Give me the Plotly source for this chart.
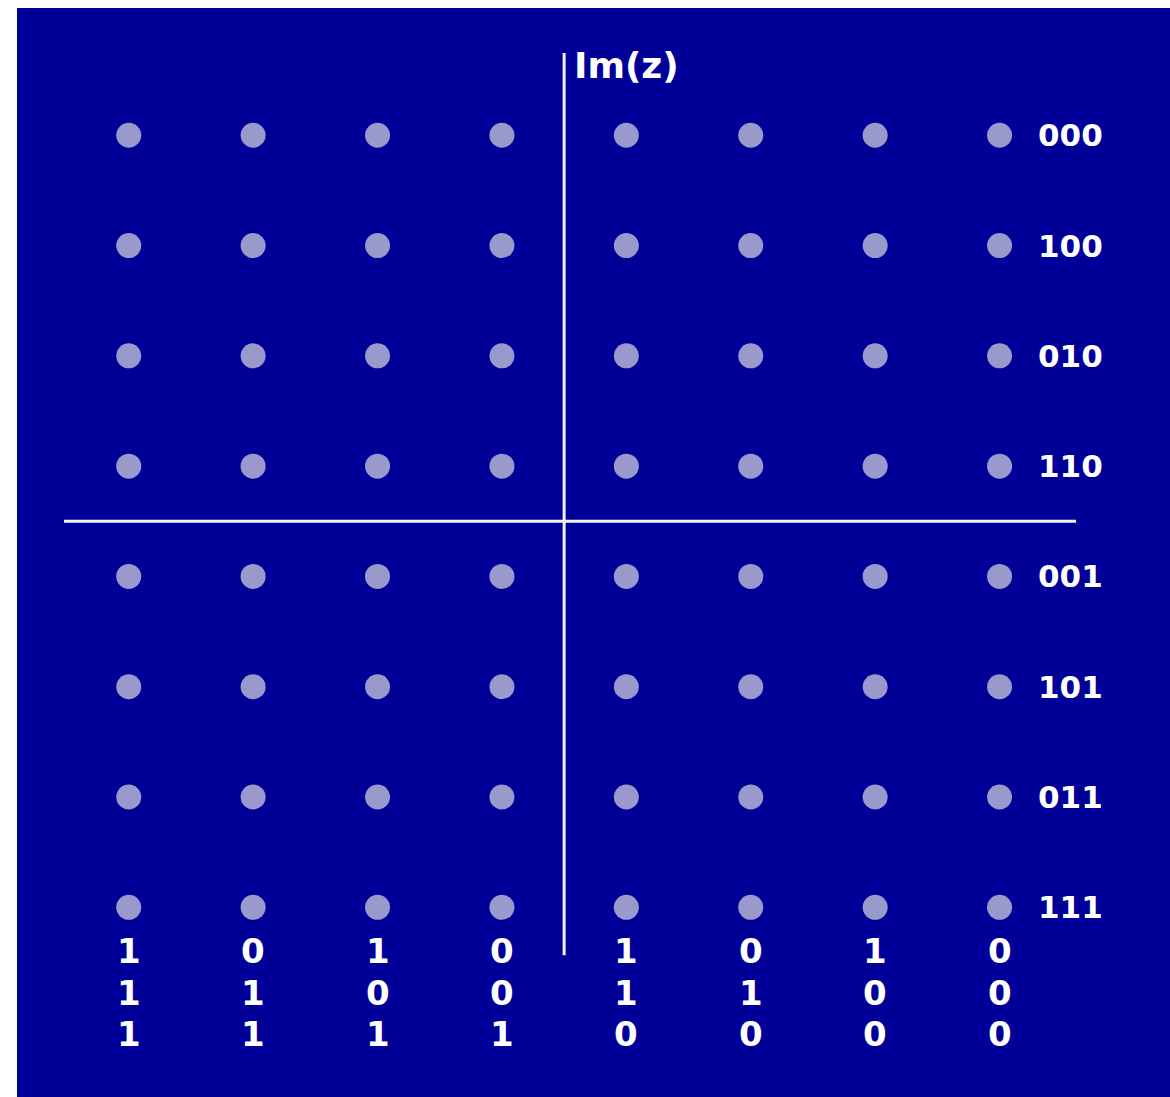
import plotly.graph_objects as go

# ---- data ----
I_LEVELS = [-7, -5, -3, -1, 1, 3, 5, 7]          # in-phase levels (columns)
Q_LEVELS = [7, 5, 3, 1, -1, -3, -5, -7]          # quadrature levels (rows, top to bottom)
ROW_LABELS = ["000", "100", "010", "110", "001", "101", "011", "111"]
BIT_ROW_1 = ["1", "0", "1", "0", "1", "0", "1", "0"]
BIT_ROW_2 = ["1", "1", "0", "0", "1", "1", "0", "0"]
BIT_ROW_3 = ["1", "1", "1", "1", "0", "0", "0", "0"]
AXIS_LABEL = "Im(z)"

# ---- style / layout constants ----
BG = "#000099"
DOT = "#9999CC"
FONT = "DejaVu Sans"
X_RANGE = [-8.796, 9.74]
Y_RANGE = [-10.44, 9.308]
V_AXIS = (8.49, -7.87)      # extent of imaginary axis line
H_AXIS = (-8.04, 8.23)      # extent of real axis line
ROW_LABEL_X = 7.58
BIT_ROWS_Y = [-7.8, -8.55, -9.3]

xs, ys = [], []
for q in Q_LEVELS:
    for i in I_LEVELS:
        xs.append(i)
        ys.append(q)

fig = go.Figure()
fig.add_trace(go.Scatter(
    x=xs, y=ys, mode="markers",
    marker=dict(size=25, color=DOT, line=dict(width=0)),
    hoverinfo="skip", showlegend=False,
))

shapes = [
    dict(type="line", xref="x", yref="y", x0=0, x1=0, y0=V_AXIS[0], y1=V_AXIS[1],
         line=dict(color="#F2F2F2", width=3), layer="below"),
    dict(type="line", xref="x", yref="y", x0=H_AXIS[0], x1=H_AXIS[1], y0=0, y1=0,
         line=dict(color="#F2F2F2", width=3), layer="below"),
]

annotations = []
for q, lab in zip(Q_LEVELS, ROW_LABELS):
    annotations.append(dict(x=ROW_LABEL_X, y=q, xref="x", yref="y", text=lab,
                            showarrow=False, xanchor="left", yanchor="middle",
                            font=dict(family=FONT, size=31, color="white", weight="bold")))
for row, yv in zip([BIT_ROW_1, BIT_ROW_2, BIT_ROW_3], BIT_ROWS_Y):
    for i, b in zip(I_LEVELS, row):
        annotations.append(dict(x=i, y=yv, xref="x", yref="y", text=b,
                                showarrow=False, xanchor="center", yanchor="middle",
                                font=dict(family=FONT, size=34, color="white", weight="bold")))
annotations.append(dict(x=0, y=8.26, xref="x", yref="y", text=AXIS_LABEL, xshift=8,
                        showarrow=False, xanchor="left", yanchor="middle",
                        font=dict(family=FONT, size=36, color="white", weight="bold")))

fig.update_layout(
    width=1170, height=1097,
    margin=dict(l=17, r=0, t=8, b=0),
    paper_bgcolor="white", plot_bgcolor=BG,
    shapes=shapes, annotations=annotations,
    xaxis=dict(range=X_RANGE, showgrid=False, zeroline=False, showticklabels=False,
               ticks="", showline=False, fixedrange=True),
    yaxis=dict(range=Y_RANGE, showgrid=False, zeroline=False, showticklabels=False,
               ticks="", showline=False, fixedrange=True),
    showlegend=False,
)

fig.write_html(
    "out.html",
    config={"displayModeBar": False},
    post_script="document.body.style.margin='0';document.body.style.overflow='hidden';",
)
